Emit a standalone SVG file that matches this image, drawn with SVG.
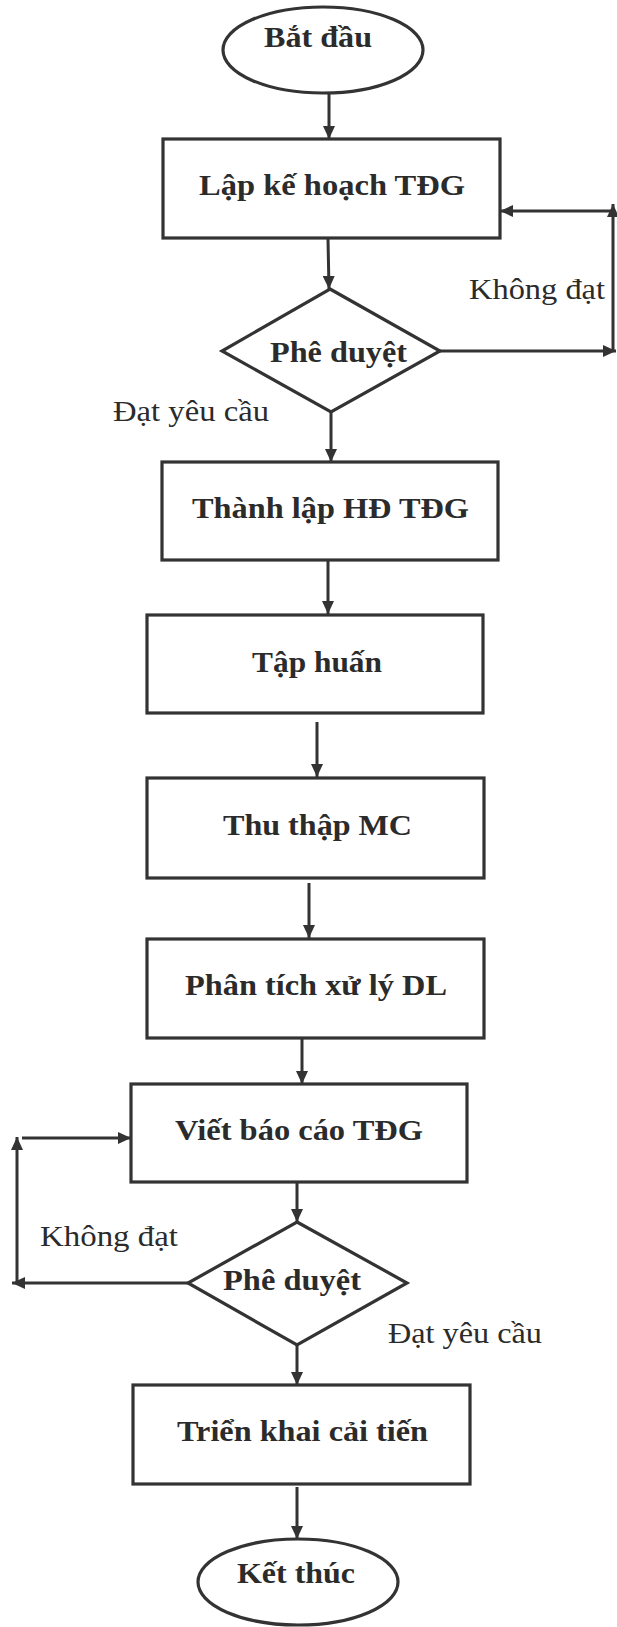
<svg xmlns="http://www.w3.org/2000/svg" width="617" height="1627" viewBox="0 0 617 1627">
<style>
.shape{fill:#fff;stroke:#333;stroke-width:3.2}
.b{font-family:"Liberation Serif","Times New Roman",serif;font-weight:bold;font-size:30px;fill:#2b2b2b}
.r{font-family:"Liberation Serif","Times New Roman",serif;font-size:29px;fill:#2b2b2b}
.c{fill:none;stroke:#333;stroke-width:3}
</style>
<defs>
<marker id="ah" markerUnits="userSpaceOnUse" markerWidth="14" markerHeight="12" refX="13" refY="6" orient="auto">
<path d="M0,0 L13,6 L0,12 Z" fill="#333"/>
</marker>
</defs>
<rect width="617" height="1627" fill="#fff"/>
<g id="connectors">
<line class="c" x1="329" y1="93" x2="329" y2="139" marker-end="url(#ah)"/>
<line class="c" x1="328" y1="239" x2="329" y2="289" marker-end="url(#ah)"/>
<line class="c" x1="331" y1="412" x2="331" y2="462" marker-end="url(#ah)"/>
<line class="c" x1="328" y1="560" x2="328" y2="614" marker-end="url(#ah)"/>
<line class="c" x1="317" y1="722" x2="317" y2="777" marker-end="url(#ah)"/>
<line class="c" x1="309" y1="883" x2="309" y2="938" marker-end="url(#ah)"/>
<line class="c" x1="302" y1="1038" x2="302" y2="1084" marker-end="url(#ah)"/>
<line class="c" x1="297" y1="1182" x2="297" y2="1222" marker-end="url(#ah)"/>
<line class="c" x1="297" y1="1345" x2="297" y2="1385" marker-end="url(#ah)"/>
<line class="c" x1="297" y1="1487" x2="297" y2="1539" marker-end="url(#ah)"/>
<line class="c" x1="440" y1="351" x2="616" y2="351" marker-end="url(#ah)"/>
<line class="c" x1="613" y1="351" x2="613" y2="204" marker-end="url(#ah)"/>
<line class="c" x1="613" y1="211" x2="500" y2="211" marker-end="url(#ah)"/>
<line class="c" x1="188" y1="1283" x2="12" y2="1283" marker-end="url(#ah)"/>
<line class="c" x1="17" y1="1283" x2="17" y2="1137" marker-end="url(#ah)"/>
<line class="c" x1="22" y1="1138" x2="131" y2="1138" marker-end="url(#ah)"/>
</g>
<g id="start">
<ellipse class="shape" cx="323" cy="50" rx="100" ry="43"/>
<text class="b" x="264" y="47" textLength="108" lengthAdjust="spacingAndGlyphs">Bắt đầu</text>
</g>
<g id="plan">
<rect class="shape" x="163" y="139" width="337" height="99"/>
<text class="b" x="199" y="195" textLength="266" lengthAdjust="spacingAndGlyphs">Lập kế hoạch TĐG</text>
</g>
<g id="approve1">
<polygon class="shape" points="330,289 440,351 331,412 222,351"/>
<text class="b" x="270" y="362" textLength="137" lengthAdjust="spacingAndGlyphs">Phê duyệt</text>
</g>
<g id="lbl-notpass1">
<text class="r" x="469" y="299" textLength="136" lengthAdjust="spacingAndGlyphs">Không đạt</text>
</g>
<g id="lbl-pass1">
<text class="r" x="113" y="421" textLength="156" lengthAdjust="spacingAndGlyphs">Đạt yêu cầu</text>
</g>
<g id="council">
<rect class="shape" x="162" y="462" width="336" height="98"/>
<text class="b" x="192" y="518" textLength="277" lengthAdjust="spacingAndGlyphs">Thành lập HĐ TĐG</text>
</g>
<g id="training">
<rect class="shape" x="147" y="615" width="336" height="98"/>
<text class="b" x="252" y="672" textLength="130" lengthAdjust="spacingAndGlyphs">Tập huấn</text>
</g>
<g id="collect">
<rect class="shape" x="147" y="778" width="337" height="100"/>
<text class="b" x="223" y="835" textLength="189" lengthAdjust="spacingAndGlyphs">Thu thập MC</text>
</g>
<g id="analyze">
<rect class="shape" x="147" y="939" width="337" height="99"/>
<text class="b" x="185" y="995" textLength="262" lengthAdjust="spacingAndGlyphs">Phân tích xử lý DL</text>
</g>
<g id="report">
<rect class="shape" x="131" y="1084" width="336" height="98"/>
<text class="b" x="175" y="1140" textLength="248" lengthAdjust="spacingAndGlyphs">Viết báo cáo TĐG</text>
</g>
<g id="approve2">
<polygon class="shape" points="297,1222 407,1283 297,1345 188,1283"/>
<text class="b" x="223" y="1290" textLength="138" lengthAdjust="spacingAndGlyphs">Phê duyệt</text>
</g>
<g id="lbl-notpass2">
<text class="r" x="40" y="1246" textLength="138" lengthAdjust="spacingAndGlyphs">Không đạt</text>
</g>
<g id="lbl-pass2">
<text class="r" x="388" y="1343" textLength="154" lengthAdjust="spacingAndGlyphs">Đạt yêu cầu</text>
</g>
<g id="deploy">
<rect class="shape" x="133" y="1385" width="337" height="99"/>
<text class="b" x="177" y="1441" textLength="251" lengthAdjust="spacingAndGlyphs">Triển khai cải tiến</text>
</g>
<g id="end">
<ellipse class="shape" cx="298" cy="1582" rx="100" ry="43"/>
<text class="b" x="237" y="1583" textLength="118" lengthAdjust="spacingAndGlyphs">Kết thúc</text>
</g>
</svg>
